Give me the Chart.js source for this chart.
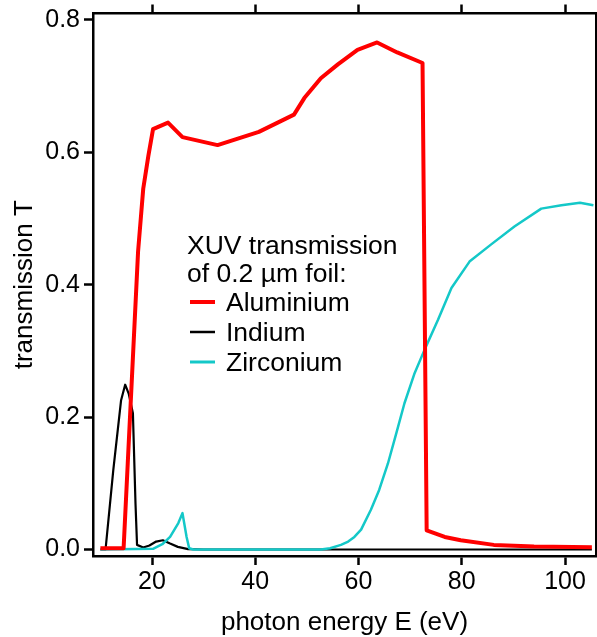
<!DOCTYPE html>
<html>
<head>
<meta charset="utf-8">
<title>XUV transmission of 0.2 µm foils</title>
<script src="https://cdn.jsdelivr.net/npm/chart.js@4.4.1/dist/chart.umd.min.js"></script>
<style>
  html, body { margin: 0; padding: 0; background: #fff; overflow: hidden; }
  #wrap { position: relative; width: 597px; height: 637px; }
</style>
</head>
<body>
<div id="wrap"><canvas id="foilChart" width="597" height="637"></canvas></div>
<script>
// photon energy (eV) and transmission T for each 0.2 µm foil
const alEnergy = [10.0, 14.5, 15.3, 16.3, 17.3, 18.3, 19.3, 20.2, 23.1, 25.9, 32.7, 40.7, 47.5, 49.5, 52.7, 56.0, 59.8, 63.6, 67.5, 72.4, 73.2, 76.7, 79.8, 86.2, 94.0, 105.2];
const alTrans  = [0.002, 0.002, 0.13, 0.29, 0.45, 0.545, 0.595, 0.635, 0.645, 0.623, 0.611, 0.631, 0.657, 0.682, 0.712, 0.733, 0.755, 0.766, 0.751, 0.735, 0.029, 0.019, 0.014, 0.007, 0.0045, 0.0035];

const inEnergy = [10.0, 11.0, 12.5, 14.0, 14.8, 15.5, 16.3, 16.8, 17.1, 18.3, 19.5, 20.8, 22.1, 23.5, 25.0, 27.0, 30.0, 105.2];
const inTrans  = [0.0, 0.0, 0.12, 0.225, 0.249, 0.235, 0.206, 0.07, 0.007, 0.003, 0.006, 0.012, 0.014, 0.009, 0.004, 0.0005, 0.0, 0.0];

const zrEnergy = [10.0, 20.2, 22.0, 23.5, 25.1, 25.9, 26.7, 27.2, 28.0, 52.7, 54.5, 56.6, 58.0, 59.2, 60.5, 62.4, 64.0, 65.7, 67.3, 68.9, 70.8, 72.8, 75.4, 78.0, 81.5, 85.7, 90.2, 95.4, 99.3, 102.9, 105.5];
const zrTrans  = [0.0, 0.001, 0.008, 0.019, 0.04, 0.055, 0.019, 0.002, 0.0, 0.0, 0.002, 0.007, 0.012, 0.019, 0.03, 0.06, 0.09, 0.13, 0.175, 0.221, 0.265, 0.302, 0.347, 0.395, 0.435, 0.461, 0.488, 0.515, 0.520, 0.524, 0.520];

const xTicks = [20, 40, 60, 80, 100];
const yTicks = [0.0, 0.2, 0.4, 0.6, 0.8];

const xMin = 8.57, xMax = 106.0;
const yMin = -0.0098, yMax = 0.8098;

const fontFamily = '"Liberation Sans", Arial, Helvetica, sans-serif';

const toPoints = (xs, ys) => xs.map((x, i) => ({ x: x, y: ys[i] }));

// small legend block placed inside the plot
const foilLegend = {
  id: 'foilLegend',
  afterDatasetsDraw(chart) {
    const ctx = chart.ctx;
    ctx.save();
    ctx.fillStyle = '#000';
    ctx.font = '26.5px ' + fontFamily;
    ctx.textBaseline = 'alphabetic';
    ctx.fillText('XUV transmission', 187, 254);
    ctx.fillText('of 0.2 µm foil:', 187, 282);
    const rows = [311, 341, 371];
    chart.data.datasets.forEach((ds, i) => {
      const base = rows[i];
      ctx.strokeStyle = ds.borderColor;
      ctx.lineWidth = ds.legendWidth;
      ctx.beginPath();
      ctx.moveTo(190, base - 9);
      ctx.lineTo(215, base - 9);
      ctx.stroke();
      ctx.fillText(ds.label, 226, base);
    });
    ctx.restore();
  }
};

// keep the frame where it is: no extra room for the end labels
const noEdgePadding = s => { s.paddingTop = 0; s.paddingBottom = 0; s.paddingLeft = 0; s.paddingRight = 0; };

const tickGrid = { drawOnChartArea: false, drawTicks: true, tickLength: 9, tickWidth: 2.5, tickColor: '#000' };
const axisBorder = { display: true, color: '#000', width: 2.5 };

new Chart(document.getElementById('foilChart').getContext('2d'), {
  type: 'line',
  data: {
    datasets: [
      { label: 'Aluminium', data: toPoints(alEnergy, alTrans), borderColor: '#ff0000', borderWidth: 4, legendWidth: 4, order: 0 },
      { label: 'Indium', data: toPoints(inEnergy, inTrans), borderColor: '#000000', borderWidth: 2.2, legendWidth: 2.5, order: 2 },
      { label: 'Zirconium', data: toPoints(zrEnergy, zrTrans), borderColor: '#14c8c8', borderWidth: 2.5, legendWidth: 3, order: 1 }
    ].map(ds => Object.assign(ds, {
      xAxisID: 'x', yAxisID: 'y', pointRadius: 0, tension: 0,
      borderJoinStyle: 'round', borderCapStyle: 'butt', fill: false
    }))
  },
  options: {
    responsive: false,
    animation: false,
    devicePixelRatio: 1,
    layout: { padding: 0 },
    plugins: { legend: { display: false }, tooltip: { enabled: false } },
    scales: {
      x: {
        type: 'linear', position: 'bottom', min: xMin, max: xMax,
        afterBuildTicks: s => { s.ticks = xTicks.map(v => ({ value: v })); },
        afterFit: s => { s.height = 81; noEdgePadding(s); },
        grid: tickGrid, border: axisBorder,
        ticks: { color: '#000', font: { family: fontFamily, size: 25 }, padding: 2, maxRotation: 0, autoSkip: false },
        title: { display: true, text: 'photon energy E (eV)', color: '#000', font: { family: fontFamily, size: 26 }, padding: { top: 0, bottom: -1 } }
      },
      xTop: {
        type: 'linear', position: 'top', min: xMin, max: xMax,
        afterBuildTicks: s => { s.ticks = xTicks.map(v => ({ value: v })); },
        afterFit: s => { s.height = 13.5; noEdgePadding(s); },
        grid: tickGrid, border: axisBorder,
        ticks: { display: false }
      },
      y: {
        type: 'linear', position: 'left', min: yMin, max: yMax,
        afterBuildTicks: s => { s.ticks = yTicks.map(v => ({ value: v })); },
        afterFit: s => { s.width = 93; noEdgePadding(s); },
        grid: tickGrid, border: axisBorder,
        ticks: { color: '#000', font: { family: fontFamily, size: 25 }, padding: 4, callback: v => v.toFixed(1) },
        title: { display: true, text: 'transmission T', color: '#000', font: { family: fontFamily, size: 26 }, padding: { top: 9, bottom: 0 } }
      },
      yRight: {
        type: 'linear', position: 'right', min: yMin, max: yMax,
        afterBuildTicks: s => { s.ticks = yTicks.map(v => ({ value: v })); },
        afterFit: s => { s.width = 1; noEdgePadding(s); },
        grid: tickGrid, border: axisBorder,
        ticks: { display: false }
      }
    }
  },
  plugins: [foilLegend]
});
</script>
</body>
</html>
